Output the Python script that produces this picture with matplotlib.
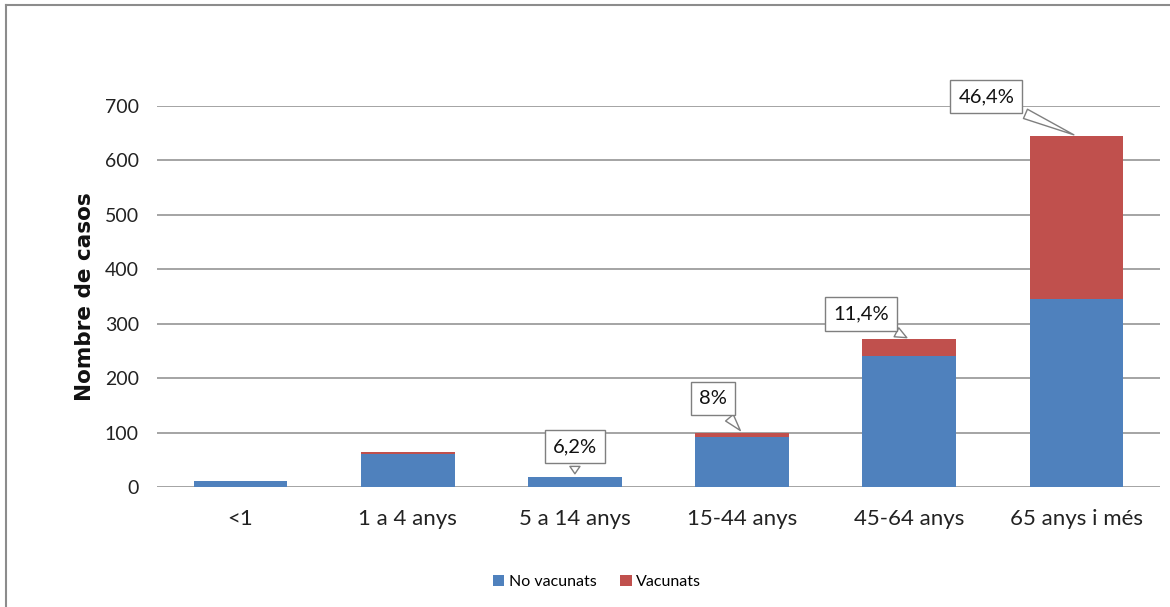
import matplotlib.pyplot as plt
from matplotlib.lines import Line2D
import numpy as np

# Cases by age group, split by vaccination status
categories = ['<1', '1 a 4 anys', '5 a 14 anys', '15-44 anys', '45-64 anys', '65 anys i més']
no_vacunats = [11, 61, 18, 92, 241, 345]
vacunats = [0, 2.5, 1.2, 8, 31, 300]
pct_labels = [None, None, '6,2%', '8%', '11,4%', '46,4%']
# callout offsets (pixels) from bar top to label centre
label_offsets = [None, None, (0, 30), (-29, 34), (-48, 25), (-90, 39)]

blue = '#4F81BD'
red = '#C0504D'

fig = plt.figure(figsize=(11.7, 6.07), dpi=100)
ax = fig.add_axes([157 / 1170, 1 - 487 / 607, 1003 / 1170, 381 / 607])

x = np.arange(len(categories))
ax.bar(x, no_vacunats, width=0.56, color=blue, zorder=3, label='No vacunats')
ax.bar(x, vacunats, width=0.56, bottom=no_vacunats, color=red, zorder=3, label='Vacunats')

ax.set_xlim(-0.5, len(categories) - 0.5)
ax.set_ylim(0, 700)
ax.set_yticks(range(0, 701, 100))
ax.set_xticks(x)
ax.set_xticklabels(categories, fontsize=16, family='Lato', color='#222222')
for lbl in ax.get_yticklabels():
    lbl.set_fontsize(14)
    lbl.set_family('Lato')
    lbl.set_color('#222222')
ax.tick_params(axis='both', length=0)
ax.tick_params(axis='y', pad=13)
ax.tick_params(axis='x', pad=16)
ax.grid(axis='y', color='#8c8c8c', linewidth=1.1, zorder=0)
for s in ax.spines.values():
    s.set_visible(False)

# percentage callouts
totals = [a + b for a, b in zip(no_vacunats, vacunats)]
for i, (txt, off) in enumerate(zip(pct_labels, label_offsets)):
    if txt is None:
        continue
    ax.annotate(txt, xy=(x[i], totals[i]), xytext=off, textcoords='offset pixels',
                ha='center', va='center', fontsize=14.5, family='Lato', color='#111111',
                annotation_clip=False, zorder=5,
                bbox=dict(boxstyle='square,pad=0.4', fc='white', ec='#7f7f7f', lw=1),
                arrowprops=dict(arrowstyle='wedge,tail_width=0.5,shrink_factor=0.5',
                                fc='white', ec='#7f7f7f', lw=1))

fig.text(85 / 1170, 1 - 297 / 607, 'Nombre de casos', rotation=90, ha='center', va='center',
         fontsize=15.5, fontweight='bold', color='#111111')

fig.legend(loc='center', bbox_to_anchor=(597 / 1170, 1 - 582 / 607), ncol=2, frameon=False,
           handlelength=0.7, handleheight=0.7, handletextpad=0.3,
           columnspacing=1.5, prop={'family': 'Lato', 'size': 11.5})

# chart frame (top and left edges visible)
fig.add_artist(Line2D([6 / 1170, 6 / 1170], [0, 1 - 5 / 607], color='#8c8c8c', lw=1.5))
fig.add_artist(Line2D([6 / 1170, 1], [1 - 5 / 607, 1 - 5 / 607], color='#8c8c8c', lw=1.5))

plt.savefig('out.png', dpi=100)
plt.close()
